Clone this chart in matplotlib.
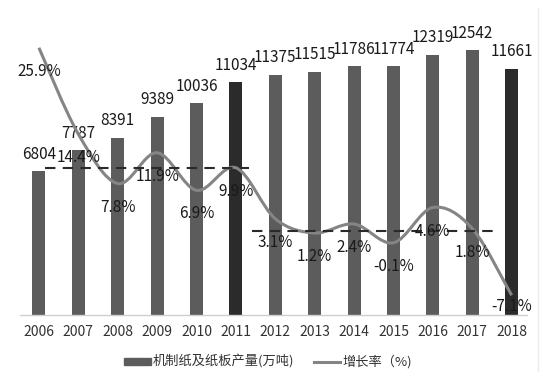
import numpy as np
from matplotlib import pyplot as plt
from matplotlib.path import Path
from matplotlib.patches import PathPatch, Patch
from matplotlib.lines import Line2D

plt.rcParams['font.family'] = ['Noto Sans CJK SC', 'DejaVu Sans']

years = ['2006', '2007', '2008', '2009', '2010', '2011', '2012',
         '2013', '2014', '2015', '2016', '2017', '2018']
output = [6804, 7787, 8391, 9389, 10036, 11034, 11375,
          11515, 11786, 11774, 12319, 12542, 11661]
growth = [25.9, 14.4, 7.8, 11.9, 6.9, 9.9, 3.1,
          1.2, 2.4, -0.1, 4.6, 1.8, -7.1]
dark_years = ['2011', '2018']
# two average guide lines: (x from, x to, level)
avg_lines = [(0.15, 5.33, 9.9), (5.4, 11.62, 1.5)]

bar_label = '机制纸及纸板产量(万吨)'
line_label = '增长率（%)'


def smooth_path(xs, ys):
    # catmull-rom like bezier, similar to excel "smoothed line"
    p = np.column_stack([xs, ys]).astype(float)
    ext = np.vstack([p[0], p, p[-1]])
    verts = [p[0]]
    codes = [Path.MOVETO]
    for i in range(len(p) - 1):
        p0, p1, p2, p3 = ext[i], ext[i + 1], ext[i + 2], ext[i + 3]
        c1 = p1 + (p2 - p0) / 6
        c2 = p2 - (p3 - p1) / 6
        verts += [c1, c2, p2]
        codes += [Path.CURVE4] * 3
    return Path(verts, codes)


fig = plt.figure(figsize=(5.43, 3.79), dpi=100)
ax = fig.add_axes([20 / 543, 64 / 379, 507 / 543, 313 / 379])
x = np.arange(len(years))

colors = ['#2b2b2b' if y in dark_years else '#5c5c5c' for y in years]
ax.bar(x, output, width=0.33, color=colors, zorder=2)
for i, v in enumerate(output):
    ax.annotate(str(v), (i, v), xytext=(0, 6), textcoords='offset points',
                ha='center', va='bottom', fontsize=11, color='#1a1a1a')

ax.set_xlim(-0.48, 12.39)
ax.set_ylim(0, 14814)
ax.set_xticks(x)
ax.set_xticklabels(years, fontsize=10, color='#333333')
ax.tick_params(axis='x', length=0, pad=7)
ax.set_yticks([])
for s in ['left', 'right', 'top']:
    ax.spines[s].set_visible(False)
ax.spines['bottom'].set_color('#cfcfcf')
ax.spines['bottom'].set_linewidth(1)

ax2 = ax.twinx()
ax2.set_ylim(-9.73, 32)
ax2.set_yticks([])
for s in ['left', 'right', 'top', 'bottom']:
    ax2.spines[s].set_visible(False)

ax2.add_patch(PathPatch(smooth_path(x, growth), fill=False,
                        edgecolor='#858585', lw=2.2, zorder=3))
for x0, x1, lvl in avg_lines:
    ax2.plot([x0, x1], [lvl, lvl], color='#2a2a2a', lw=1.5,
             dashes=(5, 3.5), zorder=4)

for i, v in enumerate(growth):
    off = -8 if i == len(growth) - 1 else -17
    ax2.annotate(f'{v}%', (i, v), xytext=(0, off), textcoords='offset points',
                 ha='center', va='center', fontsize=11, color='#1a1a1a',
                 zorder=5)

handles = [Patch(color='#5c5c5c'), Line2D([], [], color='#858585', lw=2.2)]
fig.legend(handles, [bar_label, line_label], loc='center',
           bbox_to_anchor=(0.494, 0.045), ncol=2, frameon=False,
           fontsize=9.5, handlelength=2.0, handleheight=0.5,
           handletextpad=0.15, columnspacing=1.5, labelcolor='#333333')

fig.add_artist(Line2D([538 / 543, 538 / 543], [0.02, 0.98],
                      color='#ececec', lw=1))

fig.savefig('out.png', dpi=100)
